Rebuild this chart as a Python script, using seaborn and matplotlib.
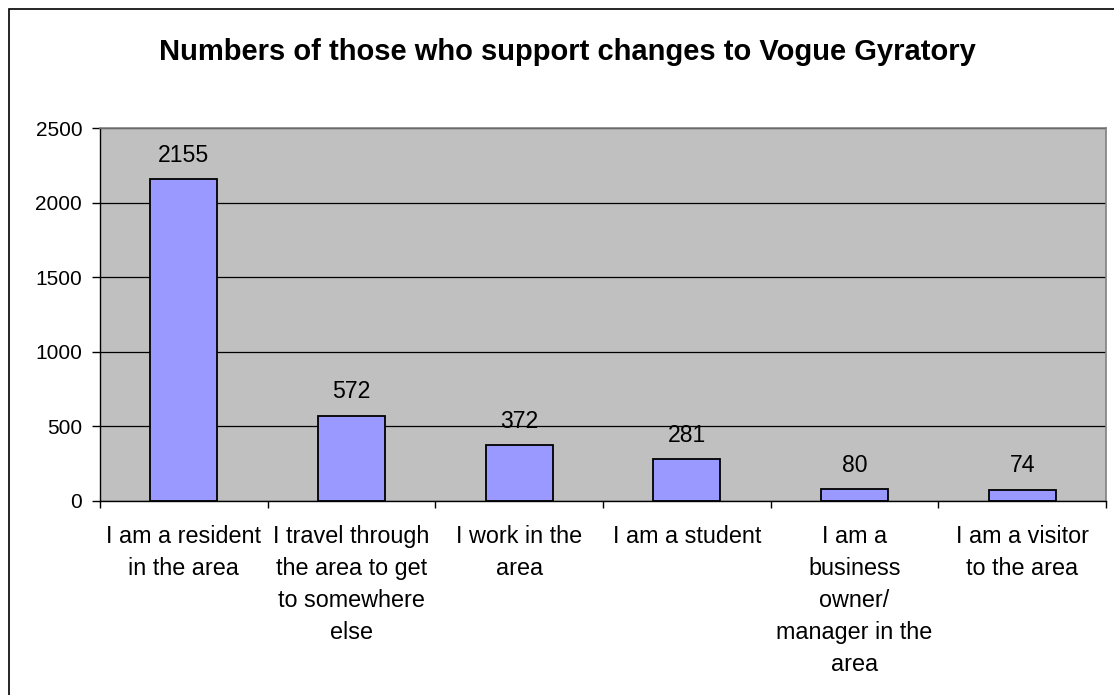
import numpy as np
import pandas as pd
import matplotlib
matplotlib.use("Agg")
import matplotlib.pyplot as plt
import seaborn as sns

# data
categories = [
    "I am a resident\nin the area",
    "I travel through\nthe area to get\nto somewhere\nelse",
    "I work in the\narea",
    "I am a student",
    "I am a\nbusiness\nowner/\nmanager in the\narea",
    "I am a visitor\nto the area",
]
supporters = [2155, 572, 372, 281, 80, 74]
y_ticks = [0, 500, 1000, 1500, 2000, 2500]

df = pd.DataFrame({"category": categories, "count": supporters})

sns.set_theme(style="white")
plt.rcParams["font.family"] = ["Liberation Sans", "DejaVu Sans"]
plt.rcParams["text.color"] = "black"
plt.rcParams["xtick.color"] = "black"
plt.rcParams["ytick.color"] = "black"

W, H = 1114, 695
fig = plt.figure(figsize=(W / 100, H / 100), dpi=100)
# plot area: x 100..1106, y 128..501 (pixels)
ax = fig.add_axes([100 / W, 1 - 501 / H, 1006 / W, 373 / H])
ax.set_facecolor("#C0C0C0")

sns.barplot(data=df, x="category", y="count", color="#9999FF",
            edgecolor="black", linewidth=1.3, width=0.4, saturation=1, ax=ax)

ax.bar_label(ax.containers[0], fmt="%d", padding=9, fontsize=16.6)

ax.set_ylim(0, 2500)
ax.set_yticks(y_ticks)
ax.set_xlim(-0.5, len(categories) - 0.5)
ax.yaxis.grid(True, color="black", linewidth=0.9)
ax.set_axisbelow(True)
ax.set_xlabel("")
ax.set_ylabel("")

ax.tick_params(axis="y", labelsize=15, length=5.8, width=1,
               direction="out", left=True, pad=7)
ax.tick_params(axis="x", labelsize=16.8, length=0, pad=17)
for lbl in ax.get_xticklabels():
    lbl.set_ha("center")
    lbl.set_va("top")
    lbl.set_multialignment("center")
    lbl.set_linespacing(1.5)
ax.set_xticks(np.arange(-0.5, len(categories)), minor=True)
ax.tick_params(axis="x", which="minor", length=5, width=1,
               direction="out", bottom=True)

for side in ["left", "bottom"]:
    ax.spines[side].set_color("black")
    ax.spines[side].set_linewidth(1)
for side in ["top", "right"]:
    ax.spines[side].set_color("#808080")
    ax.spines[side].set_linewidth(1.2)

fig.text(567 / W, 1 - 60 / H, "Numbers of those who support changes to Vogue Gyratory",
         ha="center", va="baseline", fontsize=21, fontweight="bold")

# outer chart border (right and bottom edges fall outside the image)
border = plt.Rectangle((9 / W, -0.05), 1.1, 1 - 9 / H + 0.05,
                       transform=fig.transFigure, fill=False,
                       edgecolor="black", linewidth=1.2, clip_on=False)
fig.patches.append(border)

fig.savefig("out.png", dpi=100)
